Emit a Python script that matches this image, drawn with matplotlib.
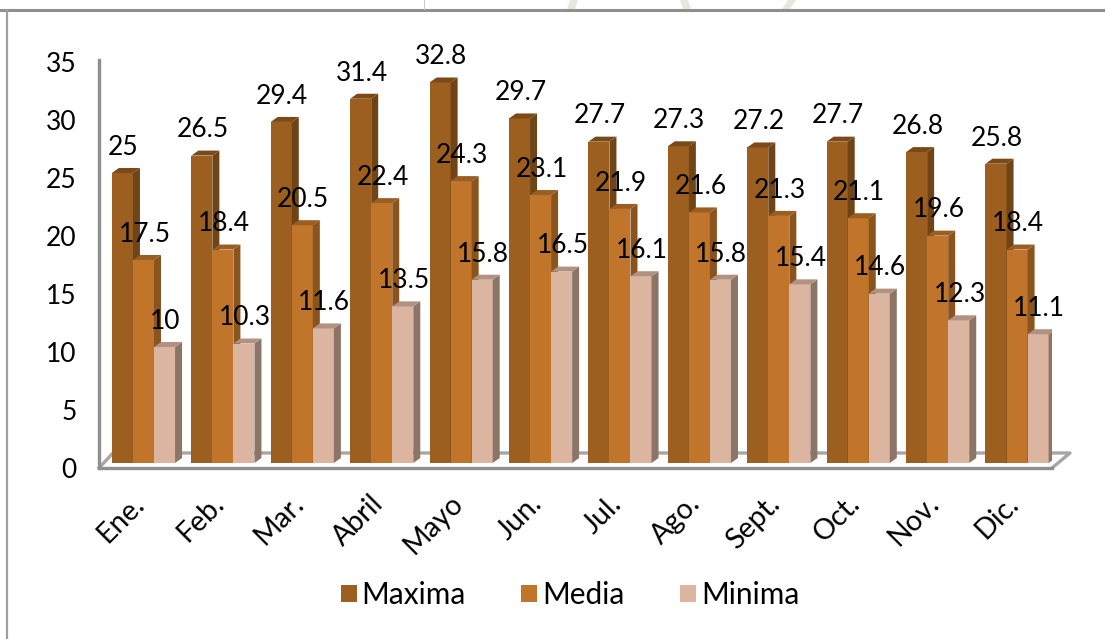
# libraries
import matplotlib
matplotlib.use('Agg')
import matplotlib.pyplot as plt
from matplotlib.patches import Patch, Polygon, Rectangle
from matplotlib.transforms import ScaledTranslation, offset_copy

# data
months = ['Ene.', 'Feb.', 'Mar.', 'Abril', 'Mayo', 'Jun.', 'Jul.', 'Ago.',
          'Sept.', 'Oct.', 'Nov.', 'Dic.']
maxima = [25, 26.5, 29.4, 31.4, 32.8, 29.7, 27.7, 27.3, 27.2, 27.7, 26.8, 25.8]
media = [17.5, 18.4, 20.5, 22.4, 24.3, 23.1, 21.9, 21.6, 21.3, 21.1, 19.6, 18.4]
minima = [10, 10.3, 11.6, 13.5, 15.8, 16.5, 16.1, 15.8, 15.4, 14.6, 12.3, 11.1]
y_ticks = [0, 5, 10, 15, 20, 25, 30, 35]
series_names = ['Maxima', 'Media', 'Minima']

# style
W, H = 1105, 639
FONT = 'Lato'
FONT_SIZE = 19
TEXT_SIZE = 21.5
GREY = '#8f8f8f'
front_colors = ['#9c5f20', '#c0752a', '#dbb5a0']
side_colors = ['#6f4417', '#8a541e', '#8c7467']
top_colors = ['#7a4b19', '#9a5e22', '#b09182']
bar_width = 0.265
depth_x = 7 / 79.4    # 3D depth in data units
depth_y = 5 / 11.6
plt.rcParams['font.family'] = FONT

fig = plt.figure(figsize=(W / 100, H / 100), dpi=100)
ax = fig.add_axes([99 / W, (H - 468) / H, 953 / W, 408 / H])
ax.set_xlim(-0.56, 11.44)
ax.set_ylim(0, 35.17)
ax.patch.set_alpha(0)

# bars sit a little behind the front edge of the floor
shifted = offset_copy(ax.transData, fig, x=0, y=5, units='dots')

# floor
floor_x = [11.44, 11.44 + 18 / 79.4, -0.56 + 14 / 79.4, -0.56]
floor_y = [0, 15 / 11.6, 15 / 11.6, 0]
ax.plot(floor_x, floor_y, color='#a6a6a6', lw=2.4, clip_on=False, zorder=1)

for i, month in enumerate(months):
    for s, values in enumerate([maxima, media, minima]):
        v = values[i]
        x0 = i - 1.5 * bar_width + s * bar_width
        x1 = x0 + bar_width
        z = 3 + s
        ax.add_patch(Rectangle((x0, 0), bar_width, v, fc=front_colors[s],
                               ec='none', transform=shifted, zorder=z))
        ax.add_patch(Polygon([(x1, 0), (x1 + depth_x, depth_y),
                              (x1 + depth_x, v + depth_y), (x1, v)],
                             fc=side_colors[s], ec='none', transform=shifted,
                             zorder=z))
        ax.add_patch(Polygon([(x0, v), (x0 + depth_x, v + depth_y),
                              (x1 + depth_x, v + depth_y), (x1, v)],
                             fc=top_colors[s], ec='none', transform=shifted,
                             zorder=z))
        ax.annotate(f'{v:g}', ((x0 + x1) / 2 + 0.012, v), xycoords=shifted,
                    xytext=(0, 18.5), textcoords='offset points', ha='center',
                    va='center', fontsize=FONT_SIZE, color='black',
                    annotation_clip=False, zorder=10)

# axes
for side in ['top', 'right']:
    ax.spines[side].set_visible(False)
for side in ['left', 'bottom']:
    ax.spines[side].set_color(GREY)
    ax.spines[side].set_linewidth(2.4)
ax.set_yticks(y_ticks)
ax.tick_params(axis='y', length=0, pad=16, labelsize=FONT_SIZE)
ax.set_xticks(range(len(months)))
ax.set_xticklabels(months, rotation=45, ha='right', va='top',
                   rotation_mode='anchor')
ax.tick_params(axis='x', length=0, pad=16, labelsize=20.5)
nudge = ScaledTranslation(-12 / 100, 0, fig.dpi_scale_trans)
for label in ax.get_xticklabels():
    label.set_transform(label.get_transform() + nudge)

# legend
handles = [Patch(fc=c, ec='none') for c in front_colors]
fig.legend(handles, series_names, ncol=3, loc='center',
           bbox_to_anchor=(570 / W, (H - 595) / H), frameon=False,
           fontsize=TEXT_SIZE, handlelength=0.53, handleheight=0.53,
           handletextpad=0.17, columnspacing=1.85)

# outer frame and the scraps of page showing above it
fig.add_artist(plt.Line2D([0, 1], [(H - 10) / H] * 2, color=GREY, lw=2.2))
fig.add_artist(plt.Line2D([7 / W] * 2, [0, (H - 10) / H], color='#a0a0a0', lw=1.6))
fig.add_artist(plt.Line2D([424 / W] * 2, [(H - 9) / H, 1], color='#cccccc', lw=0.8))
for px, lean in [(570, 3), (686, -3), (785, 6)]:
    fig.add_artist(Polygon([((px - 3) / W, (H - 9) / H), ((px + 5) / W, (H - 9) / H),
                            ((px + 5 + lean) / W, 1), ((px - 3 + lean) / W, 1)],
                           fc='#e9e6de', ec='none', transform=fig.transFigure))

fig.savefig('out.png', dpi=100)
